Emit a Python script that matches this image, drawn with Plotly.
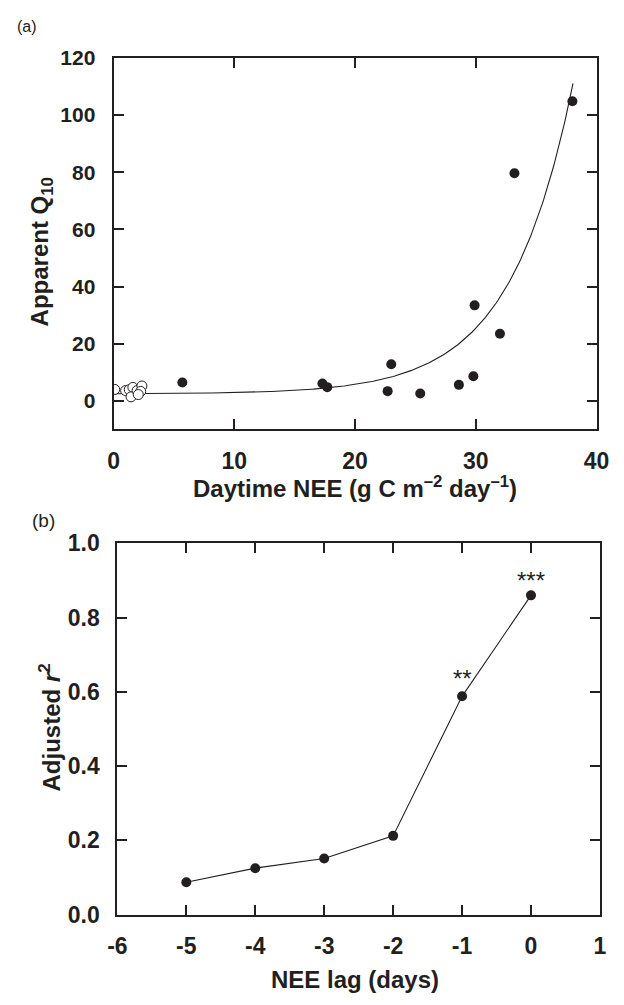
import numpy as np
import plotly.graph_objects as go

# Panel (a): apparent Q10 against daytime NEE
nee_filled = [5.7, 17.3, 17.7, 23.0, 22.7, 25.4, 28.6, 29.8, 29.9, 32.0, 33.2, 38.0]
q10_filled = [6.4, 6.1, 4.8, 12.8, 3.4, 2.6, 5.6, 8.6, 33.4, 23.5, 79.6, 104.8]
nee_open = [0.1, 1.0, 1.3, 1.6, 1.45, 1.95, 2.35, 2.25, 2.05]
q10_open = [4.0, 3.6, 3.9, 4.7, 1.4, 3.6, 5.2, 3.3, 2.2]

# exponential fit: Q10 = a + b * exp(c * NEE)
fit_a, fit_b, fit_c = 2.4, 0.0706, 0.19287
fit_x_max = 38.05

# Panel (b): adjusted r^2 against NEE lag
lag_days = [-5, -4, -3, -2, -1, 0]
adj_r2 = [0.087, 0.125, 0.151, 0.212, 0.588, 0.860]
signif = {-1: "**", 0: "***"}

INK = "#231f20"
FONT = "Liberation Sans, Arial, Helvetica, sans-serif"
W, H = 624, 1005

fit_x = np.linspace(0, fit_x_max, 300)
fit_y = fit_a + fit_b * np.exp(fit_c * fit_x)

fig = go.Figure()
fig.add_trace(go.Scatter(x=fit_x, y=fit_y, mode="lines",
                         line=dict(color=INK, width=1.1),
                         xaxis="x", yaxis="y", hoverinfo="skip"))
fig.add_trace(go.Scatter(x=nee_open, y=q10_open, mode="markers",
                         marker=dict(size=10, color="white",
                                     line=dict(color=INK, width=1)),
                         xaxis="x", yaxis="y"))
fig.add_trace(go.Scatter(x=nee_filled, y=q10_filled, mode="markers",
                         marker=dict(size=10, color=INK, line=dict(width=0)),
                         xaxis="x", yaxis="y"))
fig.add_trace(go.Scatter(x=lag_days, y=adj_r2, mode="lines+markers",
                         line=dict(color=INK, width=1.1),
                         marker=dict(size=10, color=INK),
                         xaxis="x2", yaxis="y2"))


def tick_font(size):
    return dict(family=FONT, size=size, color=INK, weight="bold")


axis_common = dict(showline=True, linecolor=INK, linewidth=2, mirror="ticks",
                   ticks="inside", ticklen=10, tickwidth=2, tickcolor=INK,
                   showgrid=False, zeroline=False)


def px_x(p):
    return p / W


def px_y(p):
    return 1 - p / H


fig.update_layout(
    width=W, height=H, showlegend=False,
    margin=dict(l=0, r=0, t=0, b=0),
    paper_bgcolor="white", plot_bgcolor="white",
    xaxis=dict(axis_common, domain=[px_x(107.5), px_x(609)], range=[0, 40],
               tickvals=[0, 10, 20, 30, 40], tickfont=tick_font(23),
               ticklabelstandoff=10, anchor="y"),
    yaxis=dict(axis_common, domain=[px_y(427.5), px_y(46)], range=[-10, 120],
               tickvals=[0, 20, 40, 60, 80, 100, 120], tickfont=tick_font(21),
               ticklabelstandoff=12, anchor="x"),
    xaxis2=dict(axis_common, domain=[px_x(111.5), px_x(612.5)], range=[-6, 1],
                tickvals=list(range(-6, 2)),
                ticktext=[str(v) for v in range(-6, 2)],
                tickfont=tick_font(23), ticklabelstandoff=10, anchor="y2"),
    yaxis2=dict(axis_common, domain=[px_y(925.5), px_y(544.5)], range=[0, 1],
                tickvals=[0, 0.2, 0.4, 0.6, 0.8, 1.0],
                ticktext=["0.0", "0.2", "0.4", "0.6", "0.8", "1.0"],
                tickfont=tick_font(23), ticklabelstandoff=11, anchor="x2"),
)

title_font = dict(family=FONT, size=24, color=INK, weight="bold")
annotations = [
    dict(text="Apparent Q<sub>10</sub>", x=px_x(33), y=px_y(245), textangle=-90,
         font=title_font),
    dict(text="Daytime NEE (g C m<sup>–2</sup> day<sup>–1</sup>)", x=px_x(358),
         y=px_y(487), font=title_font),
    dict(text="Adjusted <i>r</i><sup>2</sup>", x=px_x(42), y=px_y(733),
         textangle=-90, font=title_font),
    dict(text="NEE lag (days)", x=px_x(358), y=px_y(992), font=title_font),
    dict(text="(a)", x=px_x(18), y=px_y(14), font=dict(family=FONT, size=16, color=INK)),
    dict(text="(b)", x=px_x(35), y=px_y(521), font=dict(family=FONT, size=19, color=INK)),
]
for a in annotations:
    a.update(xref="paper", yref="paper", showarrow=False,
             xanchor="center", yanchor="middle")

shifts = {"**": 18, "***": 15}
for lag, r2 in zip(lag_days, adj_r2):
    if lag in signif:
        mark = signif[lag]
        annotations.append(dict(text=mark, x=lag, y=r2, xref="x2", yref="y2",
                                showarrow=False, yshift=shifts[mark],
                                font=dict(family=FONT, size=24, color=INK),
                                xanchor="center", yanchor="middle"))

fig.update_layout(annotations=annotations)
fig.write_html("out.html")
